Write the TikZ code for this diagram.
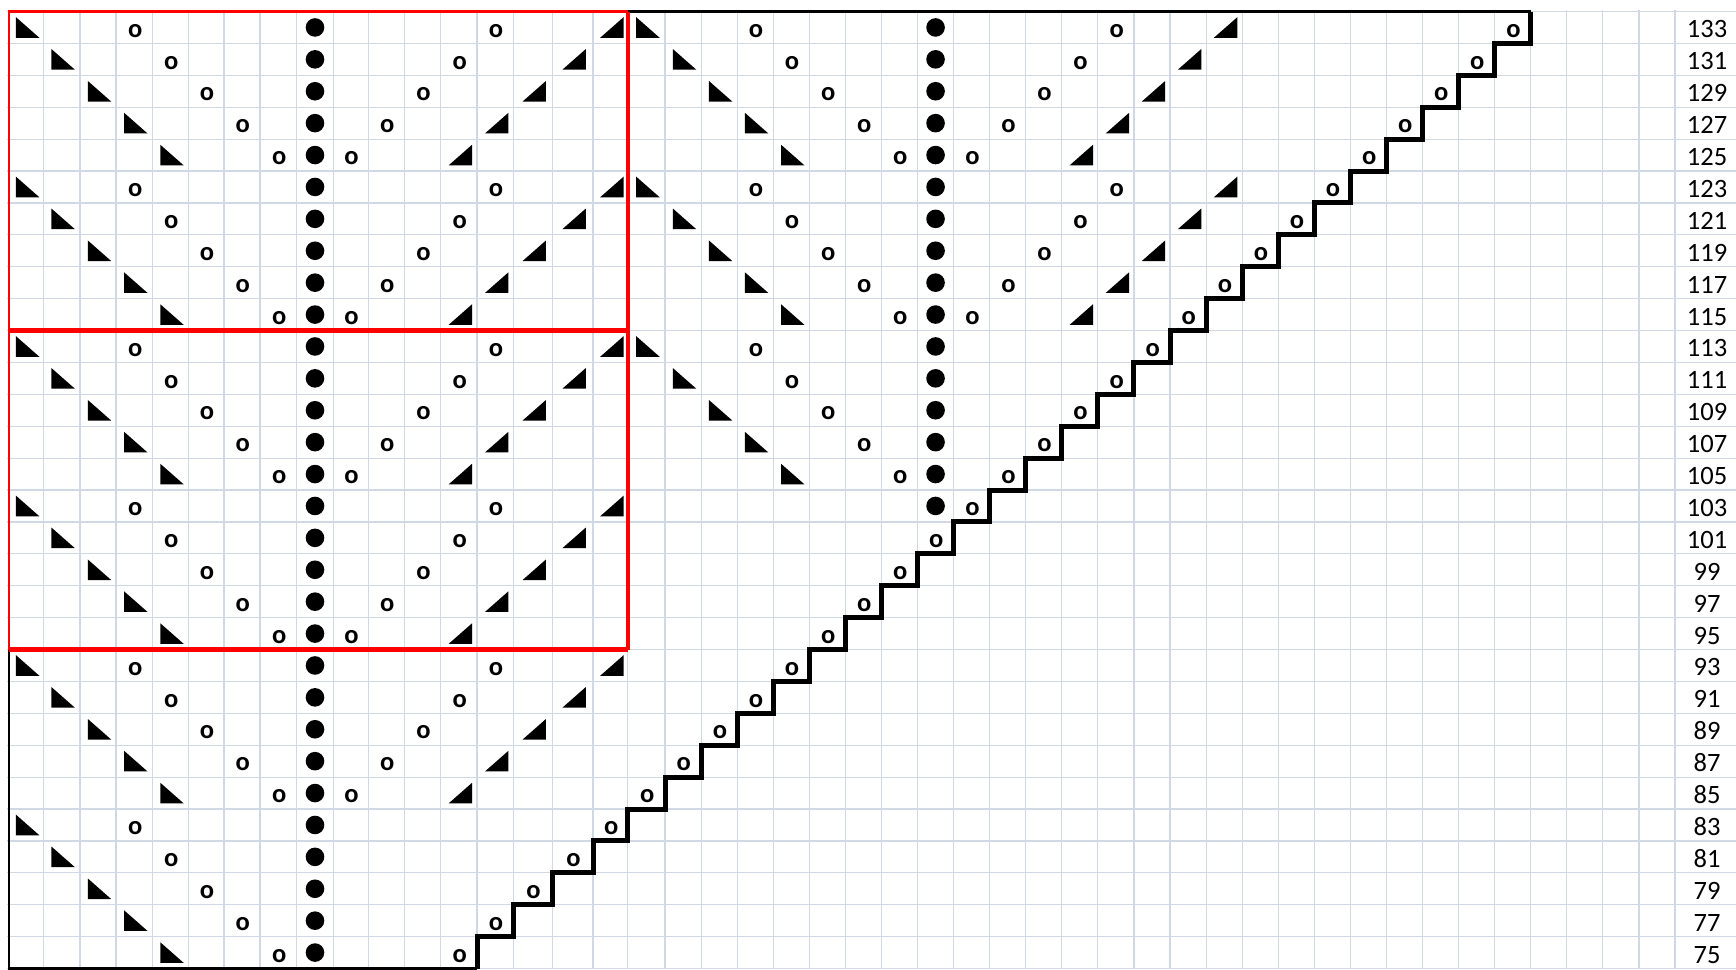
\documentclass[tikz,border=0pt]{standalone}
\usepackage{fontspec}
\setmainfont{Carlito}
\definecolor{gridc}{RGB}{208,215,229}
\definecolor{redc}{RGB}{255,0,0}
\def\XL{{9,43.3,80,116,152.7,188.3,224,260,296.7,333.3,368.3,404.5,440.7,477,513.3,552.2,593,627.8,665,701.1,737.1,773.2,809.3,845.4,881.4,917.5,953.6,989.6,1025.7,1061.8,1097.8,1133.9,1170,1206.1,1242.1,1278.2,1314.3,1350.3,1386.4,1422.5,1458.5,1494.6,1530.7,1566.8,1602.8,1638.9,1675}}
\newcommand\kSetCell[2]{%
  \pgfmathsetmacro\kxL{\XL[#1-1]}%
  \pgfmathsetmacro\kxR{\XL[#1]}%
  \pgfmathsetmacro\kcx{(\kxL+\kxR)/2}%
  \pgfmathsetmacro\kcy{11.5+31.9*(#2-0.5)}%
  \pgfmathsetmacro\kby{11.5+31.9*#2}}
\newcommand\kDot[2]{\kSetCell{#1}{#2}\fill[black] (\kcx,\kcy) circle[radius=9.3];}
\newcommand\kYo[2]{\kSetCell{#1}{#2}\node[yonode] at (\kcx+0.8,\kby-6.3) {o};}
\newcommand\kSymL[2]{\kSetCell{#1}{#2}\fill[black] (\kcx-10.2,\kcy-10.3) -- (\kcx-10.2,\kcy+10.3) -- (\kcx+13.2,\kcy+10.3) -- cycle;}
\newcommand\kSymR[2]{\kSetCell{#1}{#2}\fill[black] (\kcx-10.2,\kcy+10.3) -- (\kcx+13.2,\kcy+10.3) -- (\kcx+13.2,\kcy-10.3) -- cycle;}
\begin{document}
\begin{tikzpicture}[x=1pt,y=-1pt,
  gridline/.style={draw=gridc,line width=1.2pt},
  outerline/.style={draw=black,line width=2.2pt},
  redthin/.style={draw=redc,line width=2.2pt},
  redthick/.style={draw=redc,line width=4.5pt},
  stair/.style={draw=black,line width=5pt,line join=miter},
  yonode/.style={font=\fontsize{26.5}{30}\selectfont\bfseries,inner sep=0pt,anchor=base},
  numnode/.style={font=\fontsize{26.5}{30}\selectfont,inner sep=0pt,anchor=base}]
\useasboundingbox (0,0) rectangle (1736,969);
\fill[white] (0,0) rectangle (1736,969);
% grid
\foreach \i in {0,...,46}{\draw[gridline] ({\XL[\i]},10) -- ({\XL[\i]},969);}
\foreach \j in {0,...,30}{\draw[gridline] (7,{11.5+31.9*\j}) -- (1736,{11.5+31.9*\j});}
% stitches
\foreach \r in {1,...,30}{
  \pgfmathtruncatemacro\k{mod(\r-1,5)}
  \pgfmathtruncatemacro\cA{1+\k}\kSymL{\cA}{\r}
  \pgfmathtruncatemacro\cB{4+\k}\kYo{\cB}{\r}
  \kDot{9}{\r}
  \ifnum\r<26
    \pgfmathtruncatemacro\cC{14-\k}\kYo{\cC}{\r}
    \pgfmathtruncatemacro\cD{17-\k}\kSymR{\cD}{\r}
  \fi
  \ifnum\r<16
    \pgfmathtruncatemacro\cE{18+\k}\kSymL{\cE}{\r}
    \pgfmathtruncatemacro\cF{21+\k}\kYo{\cF}{\r}
  \fi
  \ifnum\r<17 \kDot{26}{\r}\fi
  \ifnum\r<11
    \pgfmathtruncatemacro\cG{31-\k}\kYo{\cG}{\r}
    \pgfmathtruncatemacro\cH{34-\k}\kSymR{\cH}{\r}
  \fi
  \pgfmathtruncatemacro\cS{43-\r}\kYo{\cS}{\r}
  \pgfmathtruncatemacro\num{135-2*\r}
  \pgfmathsetmacro\nby{11.5+31.9*\r-5.5}
  \node[numnode] (n\r) at (1707,\nby) {\num};
}
% borders
\draw[outerline] ({\XL[0]},{11.5+31.9*20}) -- ({\XL[0]},{11.5+31.9*30}) -- ({\XL[13]},{11.5+31.9*30});
\draw[outerline] ({\XL[17]},11.5) -- ({\XL[42]},11.5);
\draw[redthin] ({\XL[0]},{11.5+31.9*20}) -- ({\XL[0]},11.5) -- ({\XL[17]},11.5);
\draw[redthick] ({\XL[0]},{11.5+31.9*10}) -- ({\XL[17]},{11.5+31.9*10});
\draw[redthick] ({\XL[0]},{11.5+31.9*20}) -- ({\XL[17]},{11.5+31.9*20});
\draw[redthick] ({\XL[17]},11.5) -- ({\XL[17]},{11.5+31.9*20});
% staircase
\draw[stair] ({\XL[42]},11.5) \foreach \r in {1,...,29}{ -- ({\XL[43-\r]},{11.5+31.9*\r}) -- ({\XL[42-\r]},{11.5+31.9*\r}) } -- ({\XL[13]},{11.5+31.9*30});
\end{tikzpicture}
\end{document}
